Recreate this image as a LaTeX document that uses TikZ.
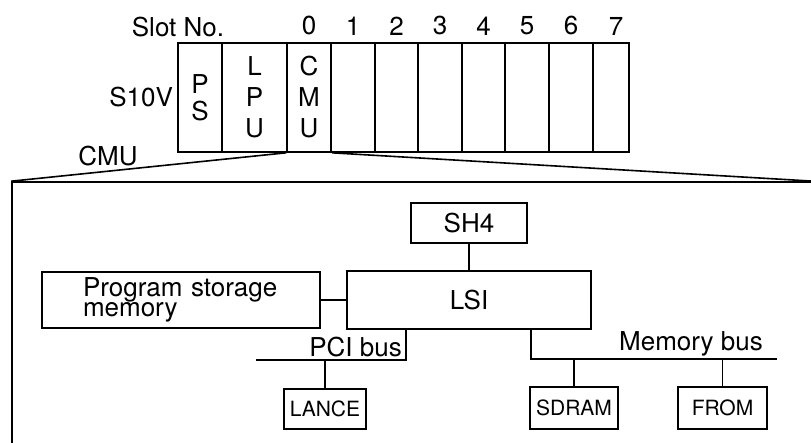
\documentclass[tikz,border=0pt]{standalone}
\usepackage{fontspec}
\setmainfont{TeX Gyre Heros}
\usepackage{tikz}
\usetikzlibrary{positioning}
\tikzstyle{slot} = [draw, line width=1.6pt, minimum height=109pt, inner sep=0pt,
 align=center, font=\fontsize{26}{31}\selectfont]
\tikzstyle{block} = [draw, line width=1.6pt, inner sep=0pt, font=\fontsize{26}{26}\selectfont]
\tikzstyle{chip} = [draw, line width=1.6pt, inner sep=0pt, font=\fontsize{21}{21}\selectfont]
\tikzstyle{num} = [inner sep=0pt, font=\fontsize{26}{26}\selectfont]
\tikzstyle{wire} = [line width=1.6pt]

\begin{document}
\begin{tikzpicture}[x=1pt, y=-1pt]
	\clip (0,0) rectangle (811,442); % Bildrand
	% Baugruppentraeger
	\node[slot, minimum width=44pt, font=\fontsize{26}{27}\selectfont] (ps) at (200,97.5) {P\\S}; % Netzteil
	\node[slot, minimum width=65pt] (lpu) at (254.5,97.5) {L\\P\\U}; % LPU
	\node[slot, minimum width=44pt] (cmu) at (309,97.5) {C\\M\\U}; % Steckplatz 0
	\node[slot, minimum width=44pt] (s1) at (353,97.5) {}; % Steckplatz 1
	\node[slot, minimum width=43pt] (s2) at (396.5,97.5) {}; % Steckplatz 2
	\node[slot, minimum width=44pt] (s3) at (440,97.5) {}; % Steckplatz 3
	\node[slot, minimum width=43pt] (s4) at (483.5,97.5) {}; % Steckplatz 4
	\node[slot, minimum width=44pt] (s5) at (527,97.5) {}; % Steckplatz 5
	\node[slot, minimum width=44pt] (s6) at (571,97.5) {}; % Steckplatz 6
	\node[slot, minimum width=36pt] (s7) at (611,97.5) {}; % Steckplatz 7
	% Beschriftung
	\node[num, above=7pt of cmu] (n0) {0};
	\node[num, above=7pt of s1] (n1) {1};
	\node[num, above=7pt of s2] (n2) {2};
	\node[num, above=7pt of s3] (n3) {3};
	\node[num, above=7pt of s4] (n4) {4};
	\node[num, above=7pt of s5] (n5) {5};
	\node[num, above=7pt of s6] (n6) {6};
	\node[num, xshift=5pt, above=7pt of s7] (n7) {7};
	\node[num, anchor=base] (slotno) at (178,36) {Slot No.};
	\node[num, left=4pt of ps] (rackname) {S10V};
	\node[num] (cmuname) at (108,156) {CMU};
	% Detailrahmen CMU
	\node[draw, line width=1.6pt, minimum width=801pt, minimum height=288pt] (cmubox) at (412.5,326) {};
	\draw[wire] (cmu.south west) -- (cmubox.north west); % Linie links
	\draw[wire] (cmu.south east) -- (cmubox.north east); % Linie rechts
	% Bausteine
	\node[block, minimum width=116pt, minimum height=40pt] (sh4) at (469,223) {SH4}; % CPU
	\node[block, minimum width=244pt, minimum height=58pt] (lsi) at (469,300) {LSI}; % LSI
	\node[block, minimum height=56pt, text width=196pt, inner xsep=41pt, align=left,
	 font=\fontsize{26}{19}\selectfont] (psm) at (181,300) {Program storage\\memory}; % Programmspeicher
	\node[chip, minimum width=82pt, minimum height=40pt] (lance) at (325,409) {LANCE};
	\node[chip, minimum width=88pt, minimum height=42pt] (sdram) at (574,408) {SDRAM};
	\node[chip, minimum width=89pt, minimum height=42pt] (from) at (722.5,408) {FROM};
	% Busse
	\coordinate (pcijoint) at (406,360);
	\coordinate (pciend) at (256,360);
	\coordinate (memjoint) at (531,359);
	\coordinate (memend) at (777,359);
	\node[num, anchor=base east] (pcilabel) at (402,356) {PCI bus};
	\node[num, anchor=base west] (memlabel) at (619,350) {Memory bus};
	% Verbindungen
	\draw[wire] (sh4) -- (lsi); % SH4 - LSI
	\draw[wire] (psm) -- (lsi); % Speicher - LSI
	\draw[wire] (pcijoint |- lsi.south) -- (pcijoint) -- (pciend); % PCI-Bus
	\draw[wire] (lance.north) -- (lance.north |- pciend); % LANCE
	\draw[wire] (memjoint |- lsi.south) -- (memjoint) -- (memend); % Speicherbus
	\draw[wire] (sdram.north) -- (sdram.north |- memend); % SDRAM
	\draw[wire] (from.north) -- (from.north |- memend); % FROM
\end{tikzpicture}
\end{document}
